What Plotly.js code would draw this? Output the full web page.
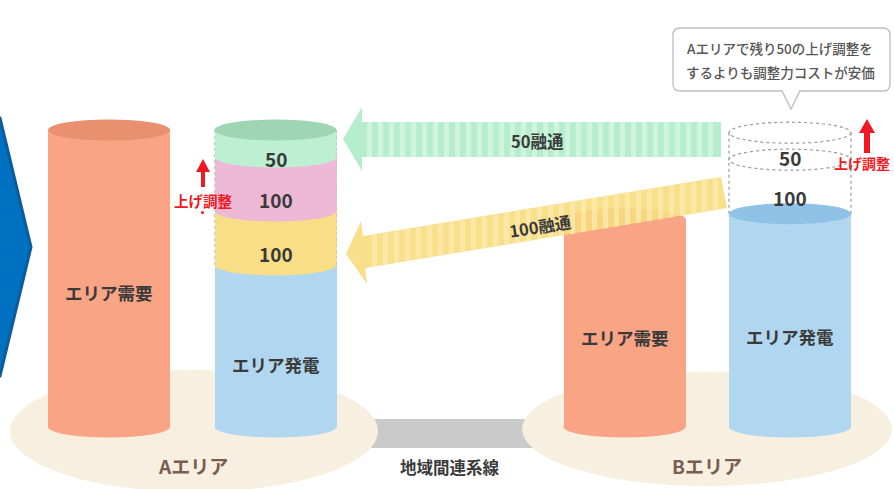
<!DOCTYPE html>
<html><head><meta charset="utf-8">
<script src="https://cdn.plot.ly/plotly-3.0.1.min.js"></script>
<style>html,body{margin:0;padding:0;background:#fff}#chart{width:894px;height:489px}</style>
</head><body><div id="chart"></div>
<script>
// ---------------- data ----------------
const areaNames = ["Aエリア", "Bエリア"];
const demandLabel = "エリア需要";
const generationLabel = "エリア発電";
const areaDemand = [550, 385];            // A, B
const areaGeneration = [300, 395];        // A, B
const aUpperLabels = ["100", "100", "50"];
const aUpperValues = [100, 100, 50];      // 100融通, 上げ調整, 50融通
const bSpareLabels = ["100", "50"];
const bSpareValues = [100, 50];
const transferLabels = ["50融通", "100融通"];
const adjustLabel = "上げ調整";
const lineLabel = "地域間連系線";
const calloutLines = ["Aエリアで残り50の上げ調整を", "するよりも調整力コストが安価"];

// ---------------- layout constants ----------------
const W = 894, H = 489;
const BASE_PX = 427;      // pixel row of value 0
const K = 0.54;           // pixels per unit
const BAR_W = 122;
const pos = {aDemand: 109, aGen: 275.5, bDemand: 624.5, bGen: 790};
const RY = 10.5 / K;
const FONT = '"Noto Sans CJK JP", "Noto Sans", sans-serif';
const C = {
  salmon: '#F9A484', salmonTop: '#E8906F',
  blue: '#B0D7EF', blueTop: '#8EC3E7',
  yellow: '#F8DE86', pink: '#EDB9D7', green: '#BDEFD2', greenTop: '#9ED6B3',
  beige: '#F7F0E1', gray: '#CACACA', text: '#3A3A3A', brown: '#7B5D4E', red: '#F01822'
};

// pixel -> paper helpers
const px = x => x / W;
const py = y => 1 - y / H;
const pathOf = pts => 'M ' + pts.map(p => px(p[0]).toFixed(5) + ',' + py(p[1]).toFixed(5)).join(' L ') + ' Z';
function paperPath(pts, fill, layer, line) {
  return {type: 'path', xref: 'paper', yref: 'paper', path: pathOf(pts), fillcolor: fill,
          line: line || {width: 0}, layer: layer || 'above'};
}
function paperEllipse(x0, y0, x1, y1, fill, layer) {
  return {type: 'circle', xref: 'paper', yref: 'paper', x0: px(x0), x1: px(x1), y0: py(y1), y1: py(y0),
          fillcolor: fill, line: {width: 0}, layer: layer || 'below'};
}
function ell(xc, yv, fill, layer, line) {
  return {type: 'circle', xref: 'x', yref: 'y', x0: xc - BAR_W / 2, x1: xc + BAR_W / 2,
          y0: yv - RY, y1: yv + RY, fillcolor: fill, line: line || {width: 0}, layer: layer};
}

// ---------------- traces ----------------
const traces = [];
traces.push({type: 'bar', x: [pos.aDemand, pos.bDemand], y: areaDemand, width: [BAR_W, BAR_W],
  marker: {color: C.salmon, line: {width: 0}}, hoverinfo: 'skip'});
traces.push({type: 'bar', x: [pos.aGen, pos.bGen], y: areaGeneration, width: [BAR_W, BAR_W],
  marker: {color: C.blue, line: {width: 0}}, hoverinfo: 'skip'});
const segColors = [C.yellow, C.pink, C.green];
const segBases = [];
let b = areaGeneration[0];
aUpperValues.forEach((v, i) => {
  segBases.push(b);
  traces.push({type: 'bar', x: [pos.aGen], y: [v], base: [b], width: [BAR_W],
    marker: {color: segColors[i], line: {width: 0}}, hoverinfo: 'skip'});
  b += v;
});
const aTop = b;
const spareBases = [];
let sb = areaGeneration[1];
bSpareValues.forEach(v => {
  spareBases.push(sb);
  traces.push({type: 'bar', x: [pos.bGen], y: [v], base: [sb], width: [BAR_W],
    marker: {color: 'rgba(255,255,255,0)', line: {width: 0}}, hoverinfo: 'skip'});
  sb += v;
});
const bTop = sb;

// ---------------- shapes ----------------
const shapes = [];
// connector line and area platforms (below)
shapes.push(paperPath([[355, 419], [535, 419], [535, 448], [355, 448]], C.gray, 'below'));
shapes.push(paperEllipse(10, 370, 378, 492, C.beige));
shapes.push(paperEllipse(522, 372, 892, 486, C.beige));
// bottom ellipses of cylinders (below bars)
shapes.push(ell(pos.aDemand, 0, C.salmon, 'below'));
shapes.push(ell(pos.bDemand, 0, C.salmon, 'below'));
shapes.push(ell(pos.aGen, 0, C.blue, 'below'));
shapes.push(ell(pos.bGen, 0, C.blue, 'below'));
// stacked segment boundaries + tops
segBases.forEach((sbv, i) => shapes.push(ell(pos.aGen, sbv, segColors[i], 'above')));
shapes.push(ell(pos.aGen, aTop, C.greenTop, 'above'));
shapes.push(ell(pos.aDemand, areaDemand[0], C.salmonTop, 'above'));
shapes.push(ell(pos.bDemand, areaDemand[1], C.salmon, 'above'));
shapes.push(ell(pos.bGen, areaGeneration[1], C.blueTop, 'above'));
// faint dotted edges of A upper segments
[-1, 1].forEach(s => shapes.push({type: 'line', xref: 'x', yref: 'y', x0: pos.aGen + s * BAR_W / 2,
  x1: pos.aGen + s * BAR_W / 2, y0: areaGeneration[0], y1: aTop, line: {color: '#C8C8C8', width: 1, dash: 'dot'}, layer: 'above'}));
// dashed outline of B spare capacity
[-1, 1].forEach(s => shapes.push({type: 'line', xref: 'x', yref: 'y', x0: pos.bGen + s * BAR_W / 2,
  x1: pos.bGen + s * BAR_W / 2, y0: areaGeneration[1], y1: bTop, line: {color: '#9A9A9A', width: 1.2, dash: 'dot'}, layer: 'above'}));
spareBases.slice(1).concat([bTop]).forEach(v => shapes.push(ell(pos.bGen, v, 'rgba(255,255,255,0)', 'above',
  {color: '#9A9A9A', width: 1.2, dash: 'dot'})));

// left chevron
shapes.push(paperPath([[-5, 118], [0, 118], [31, 247], [0, 376], [-5, 376]], '#0070C0', 'above',
  {color: '#0B5C9E', width: 3}));

// green arrow (50融通)
shapes.push(paperPath([[721, 122], [362, 122], [362, 107], [343, 139], [362, 171], [362, 157], [721, 157]], '#B6EDCD', 'above'));
for (let x = 367; x < 716; x += 11) {
  shapes.push(paperPath([[x, 122], [x + 5, 122], [x + 5, 157], [x, 157]], '#CFF4DE', 'above'));
}
// yellow arrow (100融通), slanted
const topE = x => 236 - 0.1648 * (x - 363);
const botE = x => 268 - 0.1648 * (x - 365);
shapes.push(Object.assign(paperPath([[721, 177], [363, 236], [361, 221], [346, 254], [367, 284], [365, 268], [727, 208]], '#F7DB7C', 'above'), {opacity: 0.9}));
for (let x = 372; x < 718; x += 11) {
  shapes.push(Object.assign(paperPath([[x, topE(x)], [x + 5, topE(x + 5)], [x + 5, botE(x + 5)], [x, botE(x)]], '#FBE9AE', 'above'), {opacity: 0.8}));
}

// red arrows (上げ調整)
shapes.push(paperPath([[201, 187], [201, 172], [196, 172], [203, 159], [210, 172], [205, 172], [205, 187]], C.red, 'above'));
shapes.push(paperPath([[864, 153], [864, 133], [859, 133], [867, 119], [875, 133], [870, 133], [870, 153]], C.red, 'above'));
shapes.push(paperEllipse(201, 211, 204, 214, C.red, 'above'));

// callout box
(function () {
  const x0 = 673, x1 = 890, y0 = 28, y1 = 91, r = 7;
  const f = (x, y) => px(x).toFixed(5) + ',' + py(y).toFixed(5);
  const p = 'M ' + f(x0 + r, y0) + ' L ' + f(x1 - r, y0) + ' Q ' + f(x1, y0) + ' ' + f(x1, y0 + r) +
    ' L ' + f(x1, y1 - r) + ' Q ' + f(x1, y1) + ' ' + f(x1 - r, y1) +
    ' L ' + f(800, y1) + ' L ' + f(791, 109) + ' L ' + f(782, y1) +
    ' L ' + f(x0 + r, y1) + ' Q ' + f(x0, y1) + ' ' + f(x0, y1 - r) +
    ' L ' + f(x0, y0 + r) + ' Q ' + f(x0, y0) + ' ' + f(x0 + r, y0) + ' Z';
  shapes.push({type: 'path', xref: 'paper', yref: 'paper', path: p, fillcolor: '#FFFFFF',
    line: {color: '#BDBDBD', width: 1.3}, layer: 'above'});
})();

// ---------------- annotations ----------------
const ann = [];
function dataText(x, y, text, size, shift, color) {
  ann.push({xref: 'x', yref: 'y', x: x, y: y, text: text, showarrow: false, yshift: shift || 0,
    font: {family: FONT, size: size, color: color || C.text, weight: 700}});
}
function paperText(x, y, text, size, color, extra, weight) {
  ann.push(Object.assign({xref: 'paper', yref: 'paper', x: px(x), y: py(y), text: text, showarrow: false,
    xanchor: 'center', yanchor: 'middle',
    font: {family: FONT, size: size, color: color || C.text, weight: weight || 700}}, extra || {}));
}
dataText(pos.aDemand, areaDemand[0] / 2, demandLabel, 17.5, -14);
dataText(pos.bDemand, areaDemand[1] / 2, demandLabel, 17.5, -14);
dataText(pos.aGen, areaGeneration[0] / 2, generationLabel, 17.5, -18);
dataText(pos.bGen, areaGeneration[1] / 2, generationLabel, 17.5, -16);
aUpperValues.forEach((v, i) => dataText(pos.aGen, segBases[i] + v / 2, aUpperLabels[i], 19, -15));
bSpareValues.forEach((v, i) => dataText(pos.bGen, spareBases[i] + v / 2, bSpareLabels[i], 19, -11));

paperText(193, 465, areaNames[0], 19, C.brown);
paperText(707, 465, areaNames[1], 19, C.brown);
paperText(450, 467, lineLabel, 16.5, C.text);
paperText(537, 141, transferLabels[0], 16.5, C.text);
paperText(540, 226, transferLabels[1], 16.5, C.text, {textangle: -9});
paperText(203, 200, adjustLabel, 14.5, C.red);
paperText(862, 163, adjustLabel, 14, C.red);
paperText(780, 48, calloutLines[0], 13.5, '#555555', null, 500);
paperText(780, 72, calloutLines[1], 13.5, '#555555', null, 500);

// ---------------- layout ----------------
const layout = {
  width: W, height: H, margin: {l: 0, r: 0, t: 0, b: 0},
  paper_bgcolor: '#FFFFFF', plot_bgcolor: 'rgba(0,0,0,0)',
  showlegend: false, barmode: 'overlay', bargap: 0, hovermode: false,
  xaxis: {range: [0, W], visible: false, fixedrange: true},
  yaxis: {range: [(BASE_PX - H) / K, BASE_PX / K], visible: false, fixedrange: true},
  shapes: shapes, annotations: ann
};
Plotly.newPlot('chart', traces, layout, {displayModeBar: false, staticPlot: true});
</script>
</body></html>
